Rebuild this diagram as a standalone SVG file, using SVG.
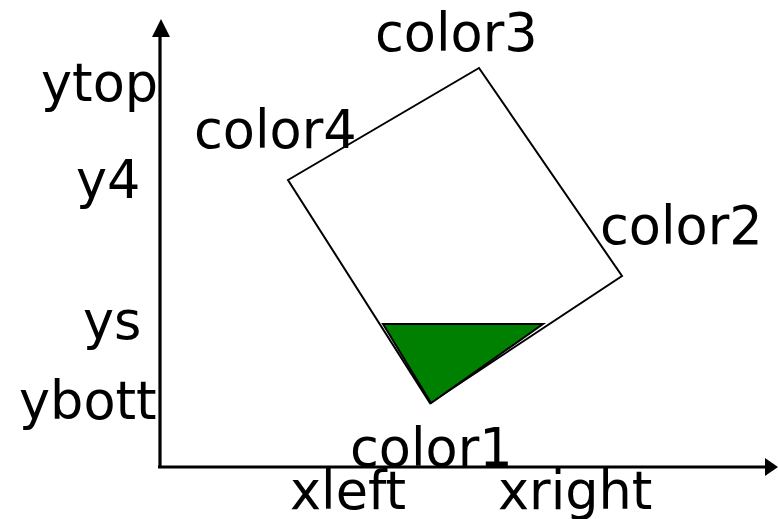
<svg xmlns="http://www.w3.org/2000/svg" width="778" height="519" viewBox="0 0 778 519">
<style>
text{font-family:"DejaVu Sans","Verdana",sans-serif;font-size:52.5px;fill:#000}
.ax{stroke:#000;stroke-width:3.2;fill:none}
.sh{stroke:#000;stroke-width:2;stroke-linejoin:miter}
</style>
<rect width="778" height="519" fill="#fff"/>
<g id="axes">
<line class="ax" x1="160" y1="468" x2="160" y2="34"/>
<polygon points="161,19 152,37 170,37" fill="#000"/>
<line class="ax" x1="158" y1="467" x2="768" y2="467"/>
<polygon points="778,467 765,458 765,476" fill="#000"/>
</g>
<g id="quad">
<polygon class="sh" points="288,180 479,68 622,276 430,403" fill="none"/>
</g>
<g id="triangle">
<polygon class="sh" points="383,324 543,324 431,403" fill="#008000"/>
</g>
<g id="labels">
<text x="375" y="51">color3</text>
<text x="194" y="148">color4</text>
<text x="600" y="244">color2</text>
<text x="350" y="466">color1</text>
<text x="41" y="101">ytop</text>
<text x="76" y="198">y4</text>
<text x="83" y="339">ys</text>
<text x="19" y="419">ybott</text>
<text x="290" y="509">xleft</text>
<text x="498" y="509">xright</text>
</g>
</svg>
